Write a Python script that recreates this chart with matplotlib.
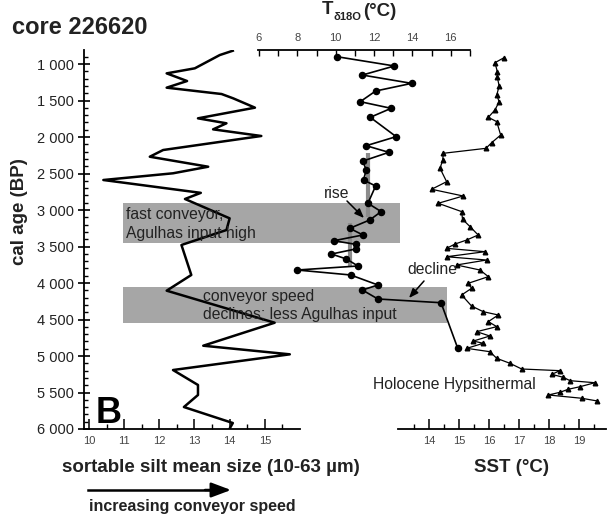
import matplotlib
matplotlib.use("Agg")
import matplotlib.pyplot as plt
from matplotlib.ticker import MultipleLocator, FixedLocator, FuncFormatter
from matplotlib.patches import Rectangle
from matplotlib.transforms import blended_transform_factory

plt.rcParams['font.family'] = ['Liberation Sans', 'DejaVu Sans']

# ---- data ----
silt_age = [818, 877, 1059, 1128, 1233, 1324, 1411, 1470, 1598, 1744, 1812, 1895, 1986,
            2178, 2270, 2407, 2497, 2589, 2765, 2849, 3114, 3274, 3479, 3890, 4105,
            4544, 4859, 4977, 5192, 5397, 5534, 5699, 5918, 5995]
silt_val = [14.09, 13.72, 13.01, 12.21, 12.79, 12.21, 13.77, 14.1, 14.72, 13.1, 13.91, 13.53, 14.9,
            12.11, 11.73, 13.39, 12.39, 10.41, 13.18, 12.73, 14.0, 13.91, 12.63, 12.91, 12.21,
            15.28, 13.25, 15.71, 12.39, 13.1, 13.1, 12.7, 14.09, 14.0]

t_age = [900, 1027, 1151, 1265, 1370, 1516, 1607, 1730, 1995, 2119, 2210, 2329, 2452, 2589,
         2671, 2908, 3022, 3137, 3251, 3342, 3421, 3470, 3534, 3603, 3671, 3767, 3822, 3890,
         4027, 4096, 4219, 4270, 4886]
t_val = [10.07, 13.06, 11.39, 13.96, 12.08, 11.28, 12.89, 11.8, 13.15, 11.59, 12.77, 11.42, 11.59, 11.45,
         12.08, 11.68, 12.37, 11.77, 10.73, 11.42, 9.9, 11.04, 11.04, 9.78, 10.56, 11.16, 7.99, 10.78,
         12.2, 11.39, 12.2, 15.49, 16.35]

# mean segments of T (value, age start, age end)
t_mean_val = [11.66, 10.73]
t_mean_start = [2219, 3178]
t_mean_end = [3096, 3781]

sst_age = [914, 982, 1105, 1182, 1301, 1425, 1516, 1630, 1730, 1790, 1973, 2078, 2155, 2223,
           2315, 2429, 2612, 2716, 2808, 2908, 3022, 3127, 3228, 3342, 3411, 3466, 3525, 3571,
           3640, 3685, 3753, 3822, 3913, 4004, 4073, 4164, 4315, 4393, 4438, 4529, 4598, 4667,
           4726, 4795, 4826, 4895, 4941, 5032, 5100, 5178, 5201, 5251, 5292, 5338, 5366, 5421,
           5456, 5497, 5534, 5579, 5616]
sst_val = [16.5, 16.2, 16.28, 16.28, 16.34, 16.26, 16.34, 16.2, 15.98, 16.26, 16.39, 16.09, 15.9, 14.48,
           14.46, 14.37, 14.59, 14.09, 15.14, 14.31, 15.09, 15.12, 15.37, 15.64, 15.26, 14.87, 14.59, 15.87,
           14.59, 15.92, 14.92, 15.7, 15.98, 15.31, 15.42, 15.09, 15.42, 15.81, 16.31, 15.98, 16.26, 15.59,
           16.03, 15.48, 15.81, 15.26, 16.03, 16.26, 16.7, 17.09, 18.37, 18.09, 18.48, 18.7, 19.53, 19.03,
           18.64, 18.37, 17.98, 19.09, 19.61]

# shaded intervals (age start, age end)
band_start = [2904, 4055]
band_end = [3452, 4548]

age_ticks = [1000, 1500, 2000, 2500, 3000, 3500, 4000, 4500, 5000, 5500, 6000]
silt_ticks = [10, 11, 12, 13, 14, 15]
t_ticks = [6, 8, 10, 12, 14, 16]
sst_ticks = [14, 15, 16, 17, 18, 19]

# ---- layout ----
W, H = 609, 515
fig = plt.figure(figsize=(W / 100, H / 100), dpi=100)
fig.patch.set_facecolor('white')

def fx(x):
    return x / W

def fy(y):
    return 1 - y / H

TXT = '#222222'
bot = fy(429)
hgt = (429 - 50) / H
ylim = (6000, 808)

ax_s = fig.add_axes([fx(84), bot, 216 / W, hgt])
ax_t = fig.add_axes([fx(258), bot, 212 / W, hgt])
ax_sst = fig.add_axes([fx(398), bot, 208 / W, hgt])
for a in (ax_s, ax_t, ax_sst):
    a.set_facecolor('none')
    a.set_ylim(*ylim)

# silt axes
ax_s.set_xlim(9.86, 16.0)
for s in ('top', 'right'):
    ax_s.spines[s].set_visible(False)
for s in ('left', 'bottom'):
    ax_s.spines[s].set_linewidth(1.3)
ax_s.yaxis.set_major_locator(FixedLocator(age_ticks))
ax_s.yaxis.set_minor_locator(MultipleLocator(100))
ax_s.yaxis.set_major_formatter(FuncFormatter(lambda v, p: f"{int(v):,}".replace(",", " ")))
ax_s.tick_params(axis='y', which='major', direction='inout', length=9, width=1.2,
                 labelsize=10.5, labelcolor=TXT, pad=3)
ax_s.tick_params(axis='y', which='minor', direction='in', length=3, width=1)
ax_s.xaxis.set_major_locator(FixedLocator(silt_ticks))
ax_s.xaxis.set_minor_locator(FixedLocator([v + 0.5 for v in silt_ticks]))
ax_s.tick_params(axis='x', which='major', direction='in', length=7, width=1.1,
                 labelsize=8, labelcolor='#444444', pad=5)
ax_s.tick_params(axis='x', which='minor', direction='in', length=3.5, width=1)
ax_s.plot(silt_val, silt_age, color='black', lw=1.8, zorder=3)

tr = blended_transform_factory(fig.transFigure, ax_s.transData)
for a0, a1, xr in zip(band_start, band_end, [400, 447]):
    ax_s.add_patch(Rectangle((fx(123), a0), fx(xr) - fx(123), a1 - a0, transform=tr,
                             facecolor='#a6a6a6', edgecolor='none', clip_on=False, zorder=0.5))

# T axes
ax_t.set_xlim(5.95, 17.0)
for s in ('bottom', 'left', 'right'):
    ax_t.spines[s].set_visible(False)
ax_t.spines['top'].set_linewidth(1.3)
ax_t.xaxis.tick_top()
ax_t.xaxis.set_major_locator(FixedLocator(t_ticks))
ax_t.xaxis.set_minor_locator(FixedLocator([v + 1 for v in t_ticks]))
ax_t.tick_params(axis='x', which='both', direction='in', length=4, width=1,
                 labelsize=8, labelcolor='#444444', pad=5)
ax_t.set_yticks([])
for v, a0, a1 in zip(t_mean_val, t_mean_start, t_mean_end):
    ax_t.plot([v, v], [a0, a1], color='#8c8c8c', lw=3, solid_capstyle='butt', zorder=2)
ax_t.plot(t_val, t_age, color='black', lw=1.2, marker='o', ms=4.4, zorder=3, clip_on=False)

# SST axes
ax_sst.set_xlim(12.97, 19.9)
for s in ('top', 'left', 'right'):
    ax_sst.spines[s].set_visible(False)
ax_sst.spines['bottom'].set_linewidth(1.3)
ax_sst.xaxis.set_major_locator(FixedLocator(sst_ticks))
ax_sst.xaxis.set_minor_locator(FixedLocator([v - 0.5 for v in sst_ticks] + [19.5]))
ax_sst.tick_params(axis='x', which='major', direction='in', length=7, width=1.1,
                   labelsize=8, labelcolor='#444444', pad=5)
ax_sst.tick_params(axis='x', which='minor', direction='in', length=3.5, width=1)
ax_sst.set_yticks([])
ax_sst.plot(sst_val, sst_age, color='black', lw=0.9, marker='^', ms=3.3, zorder=3, clip_on=False)

# ---- texts ----
fig.text(fx(12), fy(27), 'core 226620', fontsize=17, fontweight='bold', color=TXT,
         ha='left', va='center')
fig.text(fx(20), fy(212), 'cal age (BP)', fontsize=13.5, fontweight='bold', color=TXT,
         rotation=90, ha='center', va='center')
fig.text(fx(211), fy(467), 'sortable silt mean size (10-63 µm)', fontsize=13.5,
         fontweight='bold', color=TXT, ha='center', va='center')
fig.text(fx(511), fy(467), 'SST (°C)', fontsize=13.5, fontweight='bold', color=TXT,
         ha='center', va='center')
fig.text(fx(192), fy(507), 'increasing conveyor speed', fontsize=11.5, fontweight='bold',
         color=TXT, ha='center', va='center')
fig.text(fx(96), fy(423), 'B', fontsize=26, fontweight='bold', color='black',
         ha='left', va='baseline')
fig.text(fx(322), fy(10), 'T', fontsize=13.5, fontweight='bold', color=TXT, ha='left', va='center')
fig.text(fx(334), fy(17), 'δ18O', fontsize=8, fontweight='bold', color=TXT, ha='left', va='center')
fig.text(fx(363), fy(11), '(°C)', fontsize=13.5, fontweight='bold', color=TXT, ha='left', va='center')

fig.text(fx(126), fy(215), 'fast conveyor,', fontsize=11.3, color=TXT, ha='left', va='center', zorder=1)
fig.text(fx(126), fy(233), 'Agulhas input high', fontsize=11.3, color=TXT, ha='left', va='center', zorder=1)
fig.text(fx(203), fy(296), 'conveyor speed', fontsize=11.3, color=TXT, ha='left', va='center', zorder=1)
fig.text(fx(203), fy(315), 'declines; less Agulhas input', fontsize=11.3, color=TXT, ha='left', va='center', zorder=1)
fig.text(fx(373), fy(385), 'Holocene Hypsithermal', fontsize=11.3, color=TXT, ha='left', va='center')
fig.text(fx(337), fy(193), 'rise', fontsize=11.3, color=TXT, ha='center', va='center')
fig.text(fx(432), fy(270), 'decline', fontsize=11.3, color=TXT, ha='center', va='center')

arrow_kw = dict(arrowstyle='-|>,head_length=0.55,head_width=0.22', color='black',
                lw=1.1, shrinkA=0, shrinkB=0)
ax_s.annotate('', xy=(fx(364), fy(218)), xytext=(fx(347), fy(201)), xycoords='figure fraction',
              textcoords='figure fraction', arrowprops=arrow_kw)
ax_s.annotate('', xy=(fx(409), fy(298)), xytext=(fx(424), fy(281)), xycoords='figure fraction',
              textcoords='figure fraction', arrowprops=arrow_kw)

fig.add_artist(plt.Line2D([fx(88), fx(216)], [fy(490), fy(490)], color='black', lw=1.8))
ax_s.annotate('', xy=(fx(231), fy(490)), xytext=(fx(205), fy(490)), xycoords='figure fraction',
              textcoords='figure fraction',
              arrowprops=dict(arrowstyle='-|>,head_length=1.2,head_width=0.45', color='black',
                              lw=1.8, shrinkA=0, shrinkB=0))

fig.savefig('out.png', dpi=100, facecolor='white')
